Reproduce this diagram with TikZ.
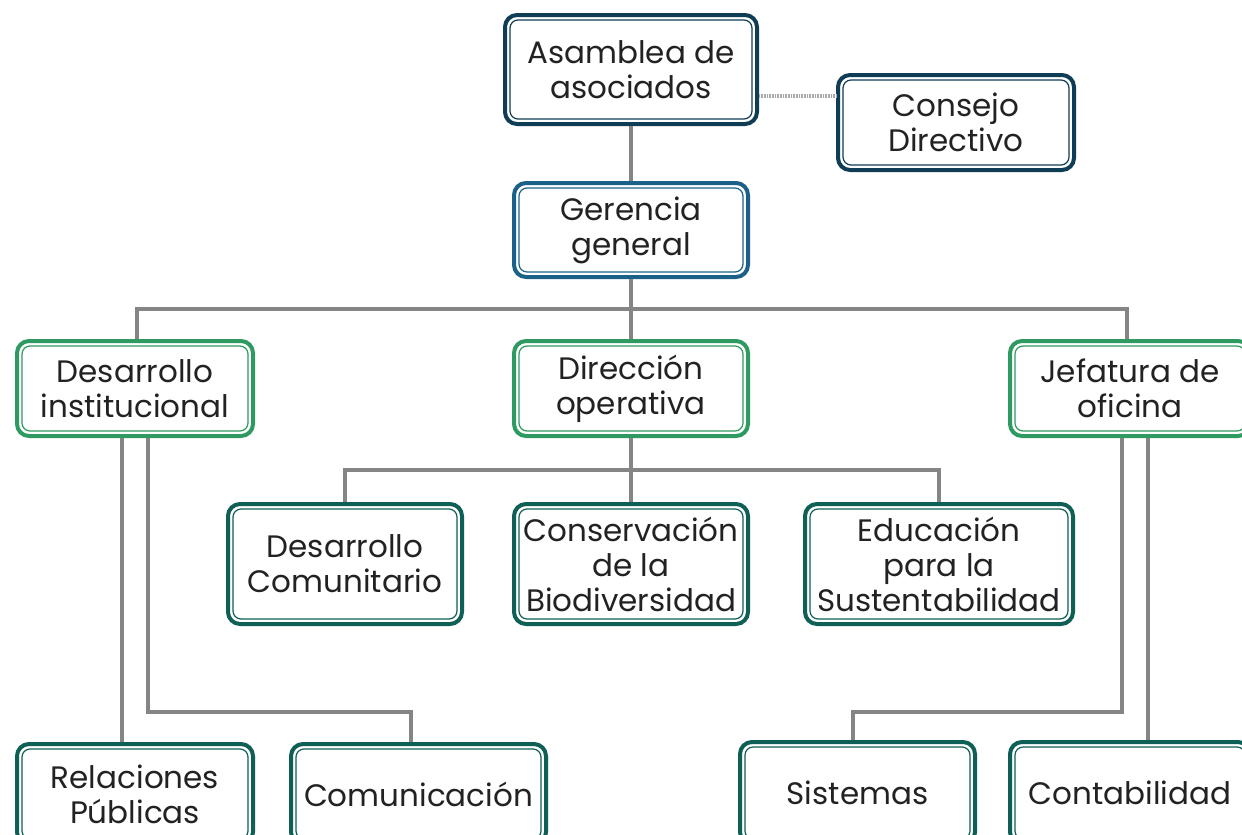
\documentclass[tikz,border=0pt]{standalone}
\usepackage{fontspec}
\setmainfont{Poppins}
\definecolor{navy}{HTML}{0F3D56}
\definecolor{blueg}{HTML}{1B6089}
\definecolor{greenb}{HTML}{2E9960}
\definecolor{tealb}{HTML}{0E5F55}
\definecolor{txt}{HTML}{222222}
\definecolor{conn}{HTML}{858585}
\begin{document}
\begin{tikzpicture}[x=1pt,y=-1pt,
  box/.style={draw=#1, line width=4pt, rounded corners=12pt, fill=white,
    align=center, inner sep=0pt, text=txt,
    font=\fontsize{31}{35}\selectfont,
    path picture={\draw[#1, line width=1.2pt, rounded corners=8pt]
      ([shift={(5pt,-5pt)}]path picture bounding box.north west) rectangle
      ([shift={(-5pt,5pt)}]path picture bounding box.south east);}},
  line/.style={draw=conn, line width=4.5pt},
  dotline/.style={draw=conn!70, line width=4pt, dash pattern=on 0.8pt off 0.8pt}]
\useasboundingbox[fill=white] (0,0) rectangle (1242,835);
\coordinate (b1) at (631,309);
\coordinate (b2) at (631,470);
\coordinate (k1) at (148,712);
\coordinate (k2) at (411,712);
\coordinate (j1) at (1122,712);
\coordinate (j2) at (853,712);
% nodes
\node[box=navy, minimum width=252pt, minimum height=109pt] (A) at (631,69.5) {Asamblea de\\asociados};
\node[box=navy, minimum width=236pt, minimum height=95pt] (C) at (956,122.5) {Consejo\\Directivo};
\node[box=blueg, minimum width=234pt, minimum height=94pt] (G) at (631,230) {Gerencia\\general};
\node[box=greenb, minimum width=236pt, minimum height=95pt] (DI) at (135,388.5) {Desarrollo\\institucional};
\node[box=greenb, minimum width=234pt, minimum height=95pt] (DO) at (631,388.5) {Dirección\\operativa};
\node[box=greenb, minimum width=240pt, minimum height=95pt] (J) at (1130,388.5) {Jefatura de\\oficina};
\node[box=tealb, minimum width=234pt, minimum height=120pt] (DC) at (345,564) {Desarrollo\\Comunitario};
\node[box=tealb, minimum width=234pt, minimum height=120pt] (CB) at (631,564) {Conservación\\de la\\Biodiversidad};
\node[box=tealb, minimum width=268pt, minimum height=120pt] (ED) at (939,564) {Educación\\para la\\Sustentabilidad};
\node[box=tealb, minimum width=236pt, minimum height=100pt] (RP) at (135,794) {Relaciones\\Públicas};
\node[box=tealb, minimum width=255pt, minimum height=100pt] (CO) at (418.5,794) {Comunicación};
\node[box=tealb, minimum width=235pt, minimum height=102pt] (SI) at (857.5,793) {Sistemas};
\node[box=tealb, minimum width=240pt, minimum height=102pt] (CT) at (1130,793) {Contabilidad};
% connectors
\draw[dotline] ([yshift=-26.5pt]A.east) -- ([yshift=-26.5pt]A.east -| C.west);
\draw[line] (A.south) -- (G.north);
\draw[line] (G.south) -- (DO.north);
\draw[line] ([xshift=2pt]DI.north) -- ([xshift=2pt]DI.north |- b1) -- ([xshift=-3pt]J.north |- b1) -- ([xshift=-3pt]J.north);
\draw[line] (DO.south) -- (CB.north);
\draw[line] (DC.north) -- (DC.north |- b2) -- (ED.north |- b2) -- (ED.north);
\draw[line] ([xshift=-13pt]DI.south) -- ([xshift=-13pt]RP.north);
\draw[line] ([xshift=13pt]DI.south) -- (k1) -- (k2) -- (k2 |- CO.north);
\draw[line] ([xshift=-8pt]J.south) -- (j1) -- (j2) -- (j2 |- SI.north);
\draw[line] ([xshift=18pt]J.south) -- ([xshift=18pt]J.south |- CT.north);
\end{tikzpicture}
\end{document}
